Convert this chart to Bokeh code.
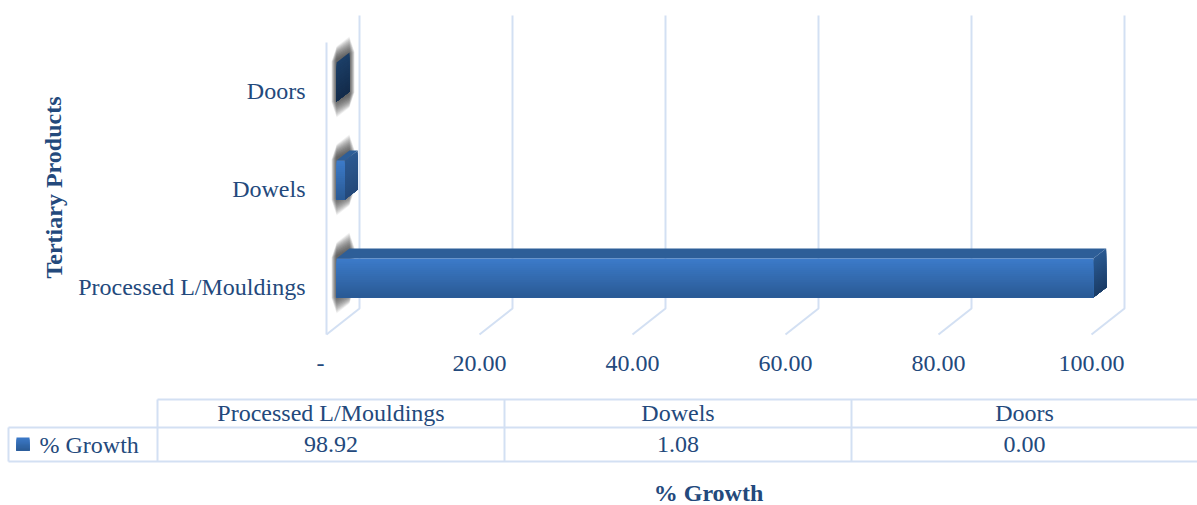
from bokeh.plotting import figure
from bokeh.models import LinearAxis, FixedTicker, Range1d, NumeralTickFormatter
from bokeh.core.properties import value
from bokeh.embed import file_html
from bokeh.resources import INLINE

# ---- data ----
categories = ["Processed L/Mouldings", "Dowels", "Doors"]
growth = [98.92, 1.08, 0.00]
table_labels = ["98.92", "1.08", "0.00"]
x_ticks = [0, 20, 40, 60, 80, 100]
series_name = "% Growth"
x_title = "% Growth"
y_title = "Tertiary Products"

# ---- style / layout (page pixels) ----
W, H = 1197, 505
PX_X, PX_Y = 7.65, 98.0
X0, Y0 = 326.0, 286.0
TXT = "#23497c"
GRID = "#d3e0f3"
FONT = "Liberation Serif"
FS = "24px"


def X(px):
    return (px - X0) / PX_X


def Y(py):
    return (Y0 - py) / PX_Y


def mix(a, b, t):
    ca = [int(a[i:i + 2], 16) for i in (1, 3, 5)]
    cb = [int(b[i:i + 2], 16) for i in (1, 3, 5)]
    return "#%02x%02x%02x" % tuple(round(u + (v - u) * t) for u, v in zip(ca, cb))


p = figure(width=W, height=H, output_backend="svg", toolbar_location=None,
           x_range=Range1d(X(0), X(W)), y_range=Range1d(Y(H), Y(0)),
           min_border=0, outline_line_color=None, background_fill_color="white")
p.xaxis.visible = False
p.yaxis.visible = False
p.grid.visible = False

# ---- 3-D walls: back gridlines with floor diagonals ----
FRONT_B, BACK_B, BACK_T, FRONT_T = 334.0, 308.0, 15.0, 42.0
DX = 33 / PX_X
for t in x_ticks:
    p.line([t, t + DX, t + DX], [Y(FRONT_B), Y(BACK_B), Y(BACK_T)],
           line_color=GRID, line_width=2)
p.line([0, 0], [Y(FRONT_B), Y(FRONT_T)], line_color=GRID, line_width=2)

# ---- bars ----
BAR_X = 10 / PX_X
BAR_DX = 13 / PX_X
BAR_DY = 10 / PX_Y
HALF = 19.5 / PX_Y
LIFT = 8.5 / PX_Y
side_cols = [("#2a5a92", "#1b3c66"), ("#2d5a92", "#24497a"), ("#1c3f68", "#132b4a")]
N = 20
LAYERS = 18

for i, v in enumerate(growth):
    x0 = BAR_X
    x1 = BAR_X + v
    yt = i + LIFT + HALF
    yb = i + LIFT - HALF
    # blurred wall shadow: outer layers are longer and narrower
    for k in range(LAYERS):
        f = 1 - k / (LAYERS - 1)
        e = (1 + 15 * f) / PX_Y
        ex = (5 - 5 * f) / PX_X
        p.patch([x0 - ex, x0 + BAR_DX + ex, x0 + BAR_DX + ex, x0 - ex],
                [yb - e, yb + BAR_DY - e, yt + BAR_DY + e, yt + e],
                fill_color="#303030", fill_alpha=0.065, line_color=None)
    # right side face: painter's gradient, each strip runs down to the bar's foot
    for s in range(N):
        c = mix(side_cols[i][0], side_cols[i][1], (s + .5) / N)
        ya = yt + (yb - yt) * s / N
        p.patch([x1, x1 + BAR_DX, x1 + BAR_DX, x1],
                [ya, ya + BAR_DY, yb + BAR_DY, yb],
                fill_color=c, line_color=None)
    if v > 0:
        # top face
        p.patch([x0, x0 + BAR_DX, x1 + BAR_DX, x1], [yt, yt + BAR_DY, yt + BAR_DY, yt],
                fill_color="#2d5e98", line_color=None)
        # front face
        for s in range(N):
            c = mix("#3c7bca", "#2a5a94", (s + .5) / N)
            ya = yt + (yb - yt) * s / N
            p.quad(left=x0, right=x1, top=ya, bottom=yb, fill_color=c, line_color=None)

# ---- real axes, fixed inside the frame ----
xa = LinearAxis(fixed_location=Y(FRONT_B), ticker=FixedTicker(ticks=x_ticks),
                formatter=NumeralTickFormatter(format="0.00"),
                major_label_overrides={0: "-\u00a0\u00a0"},
                axis_line_color=None, major_tick_line_color=None, minor_tick_line_color=None,
                major_label_standoff=9, major_label_text_color=TXT,
                major_label_text_font=FONT, major_label_text_font_size=FS)
p.add_layout(xa, "below")
ya_ = LinearAxis(fixed_location=0, ticker=FixedTicker(ticks=list(range(len(categories)))),
                 major_label_overrides={i: c for i, c in enumerate(categories)},
                 axis_line_color=None, major_tick_line_color=None, minor_tick_line_color=None,
                 major_label_standoff=15, major_label_text_color=TXT,
                 major_label_text_font=FONT, major_label_text_font_size=FS)
p.add_layout(ya_, "left")

# ---- data table ----
cols = [157, 504, 851, 1200]
R0, R1, R2 = 399, 427, 461
for a in cols:
    p.line([X(a), X(a)], [Y(R0), Y(R2)], line_color=GRID, line_width=2)
p.line([X(cols[0]), X(cols[-1])], [Y(R0), Y(R0)], line_color=GRID, line_width=2)
p.line([X(8), X(cols[-1])], [Y(R1), Y(R1)], line_color=GRID, line_width=2)
p.line([X(8), X(cols[-1])], [Y(R2), Y(R2)], line_color=GRID, line_width=2)
p.line([X(8), X(8)], [Y(R1), Y(R2)], line_color=GRID, line_width=2)


def txt(x, y, s, align="center", bold=False, angle=0, size=FS):
    p.text([x], [y], text=[s], text_color=TXT, text_font=value(FONT), text_font_size=size,
           text_align=align, text_baseline="middle", angle=angle,
           text_font_style="bold" if bold else "normal")


for i, c in enumerate(categories):
    mid = X((cols[i] + cols[i + 1] - (3 if i == 2 else 0)) / 2)
    txt(mid, Y(412.5), c)
    txt(mid, Y(444), table_labels[i])
for s in range(10):
    c = mix("#3c7bca", "#2a5a94", (s + .5) / 10)
    p.quad(left=X(16), right=X(29), top=Y(437 + s * 13 / 10), bottom=Y(450),
           fill_color=c, line_color=None)
txt(X(39), Y(444), series_name, align="left")

# ---- titles ----
txt(X(708), Y(492.5), x_title, bold=True)
txt(X(53), Y(187), y_title, bold=True, angle=1.5708)

open("out.html", "w").write(file_html(p, INLINE))
